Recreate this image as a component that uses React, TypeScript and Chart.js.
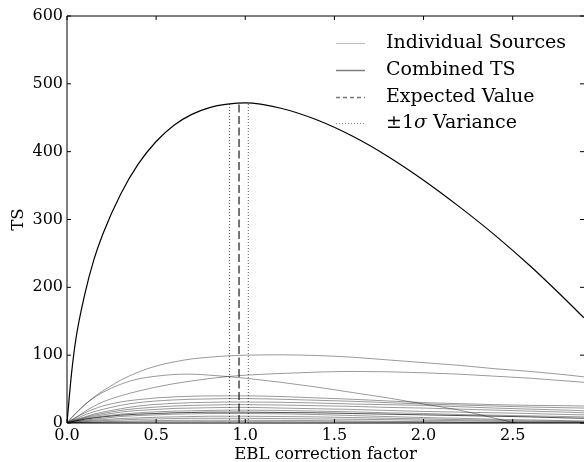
import { useEffect, useRef } from 'react';
import { Chart, registerables } from 'chart.js';

Chart.register(...registerables);

// EBL correction factor grid
const X = [0, 0.025, 0.05, 0.1, 0.15, 0.2, 0.3, 0.4, 0.5, 0.6, 0.7, 0.8, 0.9, 1.0, 1.2, 1.4, 1.6, 1.8, 2.0, 2.2, 2.4, 2.6, 2.8, 2.9];

const COMBINED = [0, 72, 124, 190, 240, 278, 337, 382, 415, 439, 455, 465, 470, 472, 464, 447, 423, 393, 358, 319, 277, 231, 181, 155];

const SRC_A = [0, 8, 15, 27, 38, 47, 63, 75, 84, 90, 94.5, 97, 99, 100, 100.5, 99.5, 97, 93, 89, 85, 80, 76, 71, 68];
const SRC_B = [0, 7.5, 14, 27, 37, 45, 57, 65, 69, 71.5, 72, 70.5, 68.5, 66, 60, 53, 45, 37, 28, 19, 7, -5, -14, -19];
const SRC_C = [0, 4, 8, 17, 24.5, 31, 40, 47, 53, 58, 62, 65.5, 68.5, 70.5, 73, 75, 76, 75.5, 74, 72, 69, 66, 62, 60];
const SRC_D = [0, 4.5, 8, 15, 20.5, 25, 31, 34.5, 37, 38.5, 39.5, 40, 40, 40, 39, 37, 35, 32.5, 30, 28.5, 27, 26, 25.5, 25];
const SRC_E = [0, 3.5, 6, 12, 16.5, 20, 26, 30, 32.5, 34, 35, 35.5, 36, 36, 35, 33.5, 32, 30, 28, 26.5, 25, 23.5, 22.5, 22];
const SRC_F = [0, 3, 5, 9, 13, 16, 21, 25, 27.5, 29, 30, 30.5, 31, 31, 30.5, 29.5, 28, 27, 26, 24, 22, 20.5, 19, 18];
const SRC_G = [0, 2.2, 4, 8, 11.5, 14, 18.5, 21.5, 23.5, 25, 26, 26.5, 27, 27, 26.5, 25.5, 24.5, 23, 22, 20.5, 19, 17.5, 16, 15];
const SRC_H = [0, 2.2, 4, 7, 9.8, 12, 16, 18.5, 20, 21.5, 22, 22.5, 23, 23, 22, 21, 20, 18.5, 17, 16, 15, 14, 12.5, 12];
const SRC_I = [0, 1.7, 3, 6, 8.2, 10, 13, 15, 16.5, 17.5, 18, 18.5, 19, 19, 18.5, 17.5, 16.5, 15, 14, 12.5, 11.5, 10.5, 9.5, 9];
const SRC_J = [0, 1.6, 3, 5.5, 7.4, 9, 11.5, 13, 14, 15, 15.5, 16, 16, 16, 15.5, 15, 14, 13, 12, 11, 10, 9, 7.5, 7];
const SRC_K = [0, 1.1, 2, 4, 5.7, 7, 9.5, 11, 12, 13, 13.5, 14, 14, 14, 13.5, 12.5, 11, 9.5, 8, 7, 5.5, 4.5, 3.5, 3];
const SRC_L = [0, 0.8, 1.5, 3, 4.1, 5, 6.5, 7.5, 8.5, 9, 9.5, 10, 10, 10, 9.5, 9, 8, 7, 6, 5, 4, 3, 2.5, 2];
const SRC_M = [0, 0.5, 1, 2, 2.8, 3.5, 4.5, 5.5, 6, 6.5, 7, 7, 7, 7, 6.5, 6, 5.5, 5, 4, 3.5, 2.5, 2, 1.5, 1];
const SRC_N = [0, 0.3, 0.5, 1, 1.5, 2, 2.5, 3, 3.5, 3.8, 4, 4, 4, 4, 3.8, 3.5, 3, 2.5, 2, 1.5, 1, 0.5, 0.2, 0];
const SRC_O = [0, 0.15, 0.3, 0.6, 0.8, 1, 1.3, 1.6, 1.8, 1.9, 2, 2, 2, 2, 1.9, 1.7, 1.5, 1.3, 1, 0.8, 0.6, 0.4, 0.2, 0.1];

const SOURCES = [SRC_A, SRC_B, SRC_C, SRC_D, SRC_E, SRC_F, SRC_G, SRC_H, SRC_I, SRC_J, SRC_K, SRC_L, SRC_M, SRC_N, SRC_O];
const DARK_SOURCES = [9];

const EXPECTED = 0.965;
const SIGMA_LO = 0.912;
const SIGMA_HI = 1.017;
const PEAK_TS = 472;

const X_TICKS = [0, 0.5, 1.0, 1.5, 2.0, 2.5];
const Y_TICKS = [0, 100, 200, 300, 400, 500, 600];

const LEGEND = ['Individual Sources', 'Combined TS', 'Expected Value', '±1σ Variance'];

const FONT = '"DejaVu Serif", serif';
const LEGEND_SIZE = 19;

const decoPlugin = {
  id: 'deco',
  afterDraw(chart: any) {
    const { ctx, chartArea, scales } = chart;
    const { left, right, top, bottom } = chartArea;
    const xs = scales.x;
    const ys = scales.y;
    ctx.save();
    ctx.strokeStyle = '#000';
    ctx.lineWidth = 1;
    ctx.setLineDash([]);
    ctx.beginPath();
    ctx.moveTo(left, bottom);
    ctx.lineTo(left, top);
    ctx.lineTo(right + 2, top);
    ctx.moveTo(left, bottom);
    ctx.lineTo(right + 2, bottom);
    ctx.stroke();
    ctx.beginPath();
    X_TICKS.forEach((v) => {
      const px = xs.getPixelForValue(v);
      ctx.moveTo(px, bottom);
      ctx.lineTo(px, bottom - 4);
      ctx.moveTo(px, top);
      ctx.lineTo(px, top + 4);
    });
    Y_TICKS.forEach((v) => {
      const py = ys.getPixelForValue(v);
      ctx.moveTo(left, py);
      ctx.lineTo(left + 4, py);
      ctx.moveTo(right, py);
      ctx.lineTo(right - 4, py);
    });
    ctx.stroke();

    // legend
    const rows = [43, 70, 97, 123];
    const hx0 = 336;
    const hx1 = 365;
    const tx = 386;
    const styles = [
      { color: 'rgba(0,0,0,0.25)', width: 1, dash: [] as number[] },
      { color: 'rgba(0,0,0,0.5)', width: 1.5, dash: [] as number[] },
      { color: '#777', width: 1.5, dash: [4, 3] },
      { color: '#888', width: 1, dash: [1, 2] },
    ];
    rows.forEach((ry, i) => {
      const st = styles[i];
      ctx.beginPath();
      ctx.strokeStyle = st.color;
      ctx.lineWidth = st.width;
      ctx.setLineDash(st.dash);
      ctx.moveTo(hx0, ry + 0.5);
      ctx.lineTo(hx1, ry + 0.5);
      ctx.stroke();
    });
    ctx.setLineDash([]);
    ctx.fillStyle = '#000';
    ctx.textBaseline = 'middle';
    ctx.textAlign = 'left';
    ctx.font = `${LEGEND_SIZE}px ${FONT}`;
    for (let i = 0; i < 3; i++) ctx.fillText(LEGEND[i], tx, rows[i]);
    // ±1σ Variance with italic sigma
    const label = LEGEND[3];
    const idx = label.indexOf('σ');
    const pre = label.slice(0, idx);
    const post = label.slice(idx + 1);
    let cx = tx;
    ctx.font = `${LEGEND_SIZE}px ${FONT}`;
    ctx.fillText(pre, cx, rows[3]);
    cx += ctx.measureText(pre).width;
    ctx.font = `italic ${LEGEND_SIZE}px ${FONT}`;
    ctx.fillText('σ', cx, rows[3]);
    cx += ctx.measureText('σ').width;
    ctx.font = `${LEGEND_SIZE}px ${FONT}`;
    ctx.fillText(post, cx, rows[3]);
    ctx.restore();
  },
};

export default function App() {
  const ref = useRef<HTMLCanvasElement | null>(null);

  useEffect(() => {
    document.body.style.margin = '0';
    if (!ref.current) return;
    const pts = (ys: number[]) => X.map((x, i) => ({ x, y: ys[i] }));
    const sourceSets = SOURCES.map((s, i) => ({
      label: i === 0 ? LEGEND[0] : '',
      data: pts(s),
      borderColor: DARK_SOURCES.includes(i) ? 'rgba(0,0,0,0.7)' : 'rgba(0,0,0,0.4)',
      borderWidth: 1,
      pointRadius: 0,
      cubicInterpolationMode: 'monotone' as const,
      fill: false,
    }));
    const chart = new Chart(ref.current, {
      type: 'line',
      data: {
        datasets: [
          ...sourceSets,
          {
            label: LEGEND[1],
            data: pts(COMBINED),
            borderColor: '#000',
            borderWidth: 1.2,
            pointRadius: 0,
            cubicInterpolationMode: 'monotone' as const,
          },
          {
            label: LEGEND[2],
            data: [{ x: EXPECTED, y: 0 }, { x: EXPECTED, y: PEAK_TS }],
            borderColor: '#555',
            borderWidth: 1.6,
            borderDash: [8, 3.5],
            pointRadius: 0,
          },
          {
            label: LEGEND[3],
            data: [{ x: SIGMA_LO, y: 0 }, { x: SIGMA_LO, y: PEAK_TS }],
            borderColor: '#555',
            borderWidth: 1,
            borderDash: [1, 2],
            pointRadius: 0,
          },
          {
            label: '',
            data: [{ x: SIGMA_HI, y: 0 }, { x: SIGMA_HI, y: PEAK_TS }],
            borderColor: '#555',
            borderWidth: 1,
            borderDash: [1, 2],
            pointRadius: 0,
          },
        ],
      },
      options: {
        animation: false,
        responsive: true,
        maintainAspectRatio: false,
        layout: { padding: { top: 16, right: 0, left: 0, bottom: 0 } },
        plugins: {
          legend: { display: false },
          tooltip: { enabled: false },
        },
        scales: {
          x: {
            type: 'linear',
            min: 0,
            max: 2.9,
            afterBuildTicks: (s: any) => {
              s.ticks = X_TICKS.map((v) => ({ value: v }));
            },
            afterFit: (s: any) => {
              s.height = 39;
            },
            ticks: {
              callback: (v: any) => Number(v).toFixed(1),
              font: { family: FONT, size: 16 },
              color: '#000',
              padding: 3,
              maxRotation: 0,
              autoSkip: false,
            },
            grid: { display: false, drawTicks: false },
            border: { display: false },
            title: {
              display: true,
              text: 'EBL correction factor',
              font: { family: FONT, size: 16.6, lineHeight: 1 },
              color: '#000',
              padding: { top: 0, bottom: -1 },
            },
          },
          y: {
            type: 'linear',
            min: 0,
            max: 600,
            afterBuildTicks: (s: any) => {
              s.ticks = Y_TICKS.map((v) => ({ value: v }));
            },
            afterFit: (s: any) => {
              s.width = 67;
            },
            ticks: {
              font: { family: FONT, size: 16 },
              color: '#000',
              padding: 4,
              autoSkip: false,
            },
            grid: { display: false, drawTicks: false },
            border: { display: false },
            title: {
              display: true,
              text: 'TS',
              font: { family: FONT, size: 16.6, lineHeight: 1 },
              color: '#000',
              padding: { top: 10, bottom: 0 },
            },
          },
        },
      },
      plugins: [decoPlugin],
    });
    return () => chart.destroy();
  }, []);

  return (
    <div style={{ position: 'fixed', left: 0, top: 0, width: 584, height: 462 }}>
      <canvas ref={ref} />
    </div>
  );
}
